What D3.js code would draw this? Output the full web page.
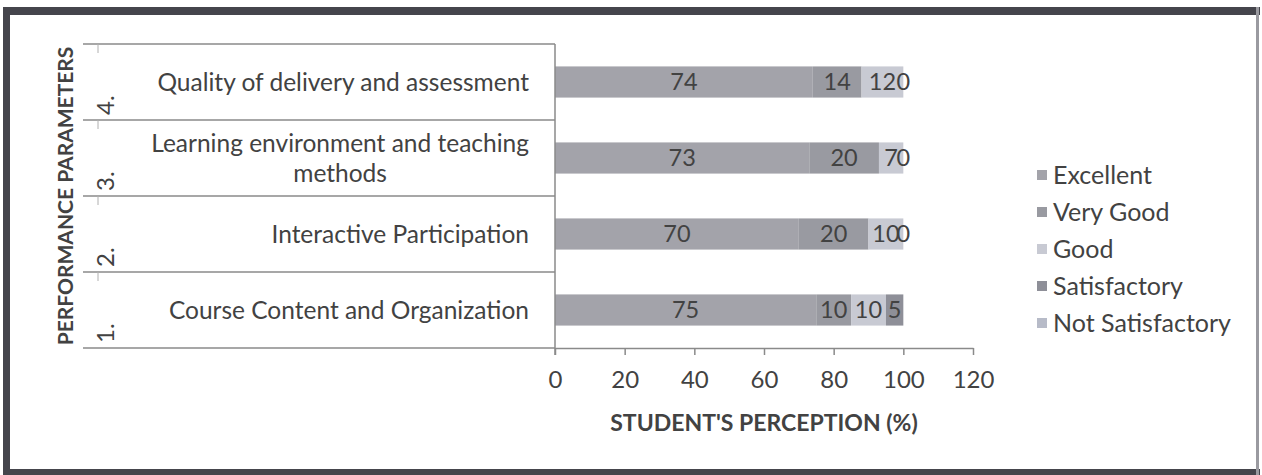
<!DOCTYPE html>
<html>
<head>
<meta charset="utf-8">
<script src="https://cdnjs.cloudflare.com/ajax/libs/d3/7.8.5/d3.min.js"></script>
<style>
  body { margin: 0; background: #fff; }
  text { font-family: Lato, "Open Sans", sans-serif; fill: #424242; }
</style>
</head>
<body>
<svg id="chart" width="1262" height="475"></svg>
<script>
// data (bottom to top)
var categories = ["Course Content and Organization", "Interactive Participation", "Learning environment and teaching\nmethods", "Quality of delivery and assessment"];
var categoryNumbers = ["1.", "2.", "3.", "4."];
var seriesNames = ["Excellent", "Very Good", "Good", "Satisfactory", "Not Satisfactory"];
var excellent = [75, 70, 73, 74];
var veryGood = [10, 20, 20, 14];
var good = [10, 10, 7, 12];
var satisfactory = [5, 0, 0, 0];
var notSatisfactory = [null, null, null, null];
var xTicks = [0, 20, 40, 60, 80, 100, 120];
var seriesColors = ["#a3a3aa", "#999aa1", "#c8cad3", "#8e8f98", "#b7bbc8"];

var svg = d3.select("#chart");

var table = categories.map(function(c, i) {
  return {cat: c, num: categoryNumbers[i], "Excellent": excellent[i], "Very Good": veryGood[i],
          "Good": good[i], "Satisfactory": satisfactory[i], "Not Satisfactory": notSatisfactory[i]};
});

var plotTop = 44, plotBottom = 348, plotLeft = 555, plotRight = 973;

var x = d3.scaleLinear().domain([0, 120]).range([plotLeft, plotRight]);
var topDown = categories.slice().reverse();
var yCat = d3.scaleBand().domain(topDown).range([plotTop, plotBottom]);
var y = d3.scaleBand().domain(topDown).range([plotTop, plotBottom]).paddingInner(0.59).paddingOuter(0.295);
var color = d3.scaleOrdinal().domain(seriesNames).range(seriesColors);

var stack = d3.stack().keys(seriesNames).value(function(d, k) { return d[k] || 0; });
var layers = stack(table);

// frame
svg.append("rect").attr("x", 3).attr("y", 7).attr("width", 1257).attr("height", 8).attr("fill", "#45454c");
svg.append("rect").attr("x", 3).attr("y", 7).attr("width", 7).attr("height", 468).attr("fill", "#45454c");
svg.append("rect").attr("x", 3).attr("y", 469).attr("width", 1257).attr("height", 6).attr("fill", "#45454c");
svg.append("rect").attr("x", 1256).attr("y", 7).attr("width", 3).attr("height", 468).attr("fill", "#9a9aa0");

// bars
var g = svg.append("g");
layers.forEach(function(layer) {
  g.selectAll(null)
    .data(layer)
    .enter().append("rect")
      .attr("x", function(d) { return x(d[0]); })
      .attr("width", function(d) { return x(d[1]) - x(d[0]); })
      .attr("y", function(d) { return y(d.data.cat); })
      .attr("height", y.bandwidth())
      .attr("fill", color(layer.key));
});

// bar labels
layers.forEach(function(layer) {
  g.selectAll(null)
    .data(layer.filter(function(d) { return d.data[layer.key] != null; }))
    .enter().append("text")
      .attr("x", function(d) { return x((d[0] + d[1]) / 2); })
      .attr("y", function(d) { return y(d.data.cat) + y.bandwidth() / 2; })
      .attr("dy", "0.36em")
      .attr("text-anchor", "middle")
      .style("font-size", "23.5px")
      .text(function(d) { return d.data[layer.key]; });
});

// x axis
var xAxis = d3.axisBottom(x).tickValues(xTicks).tickSize(7).tickSizeOuter(0).tickPadding(16);
var ax = svg.append("g").attr("transform", "translate(0," + plotBottom + ")").call(xAxis);
ax.select(".domain").attr("stroke", "#8a8a8a").attr("stroke-width", 1.5);
ax.selectAll(".tick line").attr("stroke", "#8a8a8a").attr("stroke-width", 1.5);
ax.selectAll(".tick text").style("font-size", "24px").style("font-family", "Lato, sans-serif").attr("fill", "#424242");

// category axis
svg.append("line").attr("x1", plotLeft).attr("x2", plotLeft).attr("y1", plotTop).attr("y2", plotBottom + 7)
  .attr("stroke", "#8a8a8a").attr("stroke-width", 1.5);
var bounds = topDown.map(function(c) { return yCat(c); }).concat([plotBottom]);
svg.selectAll(".catline").data(bounds).enter().append("line")
  .attr("x1", 83).attr("x2", plotLeft).attr("y1", function(d) { return d; }).attr("y2", function(d) { return d; })
  .attr("stroke", "#8a8a8a").attr("stroke-width", 1.5);
svg.selectAll(".lvl").data(bounds.slice(0, 4)).enter().append("line")
  .attr("x1", 98).attr("x2", 98).attr("y1", function(d) { return d; }).attr("y2", function(d) { return d + 9; })
  .attr("stroke", "#b0b0b0").attr("stroke-width", 1);

table.forEach(function(d) {
  var lines = d.cat.split("\n");
  var cy = yCat(d.cat) + yCat.bandwidth() / 2;
  var t = svg.append("g");
  var texts = lines.map(function(l, i) {
    return t.append("text")
      .attr("y", cy + (i - (lines.length - 1) / 2) * 30)
      .attr("dy", "0.36em")
      .attr("text-anchor", "middle")
      .style("font-size", "24.5px")
      .text(l);
  });
  var w = d3.max(texts, function(s) { return s.node().getComputedTextLength(); });
  texts.forEach(function(s) { s.attr("x", 529 - w / 2); });

  svg.append("text")
    .attr("transform", "translate(114," + (yCat(d.cat) + yCat.bandwidth() - 5) + ") rotate(-90)")
    .style("font-size", "24px")
    .text(d.num);
});

// axis titles
svg.append("text")
  .attr("transform", "translate(73," + ((plotTop + plotBottom) / 2) + ") rotate(-90)")
  .attr("text-anchor", "middle")
  .style("font-size", "21px").style("font-weight", "bold")
  .text("PERFORMANCE PARAMETERS");
svg.append("text")
  .attr("x", (plotLeft + plotRight) / 2).attr("y", 431)
  .attr("text-anchor", "middle")
  .style("font-size", "23px").style("font-weight", "bold")
  .text("STUDENT'S PERCEPTION (%)");

// legend
var legendY = [175, 212, 249, 286, 323];
var lg = svg.selectAll(".legend").data(seriesNames).enter().append("g")
  .attr("transform", function(d, i) { return "translate(1037," + legendY[i] + ")"; });
lg.append("rect").attr("x", 0).attr("y", -5).attr("width", 10).attr("height", 10).attr("fill", function(d) { return color(d); });
lg.append("text").attr("x", 16).attr("dy", "0.36em").style("font-size", "25px").text(function(d) { return d; });
</script>
</body>
</html>
